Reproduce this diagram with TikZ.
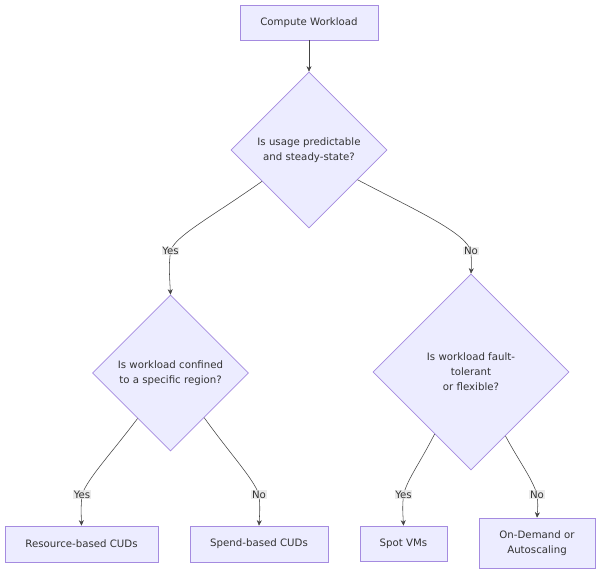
\documentclass[tikz,border=0pt]{standalone}
\usepackage{fontspec}
\setmainfont{DejaVu Sans}
\usetikzlibrary{shapes.geometric,arrows.meta,calc}
\definecolor{nodefill}{HTML}{ECECFF}
\definecolor{nodeline}{HTML}{A58BE0}
\definecolor{txt}{HTML}{333333}
\definecolor{edgecol}{HTML}{444444}
\definecolor{lblbg}{HTML}{E8E8E8}
\begin{document}
\begin{tikzpicture}[x=1pt,y=-1pt,
  every node/.style={font=\fontsize{10.2}{15}\selectfont, text=txt},
  box/.style={draw=nodeline, fill=nodefill, line width=0.7pt, inner sep=0pt, align=center},
  dia/.style={diamond, draw=nodeline, fill=nodefill, line width=0.7pt, inner sep=0pt, aspect=1},
  lbl/.style={fill=lblbg, fill opacity=0.85, text opacity=1, inner sep=0.6pt},
  conn/.style={draw=edgecol, line width=0.55pt, -{Stealth[length=5.5pt,width=5pt]}}]
\useasboundingbox[fill=white] (0,0) rectangle (600,576);

% nodes
\node[box, minimum width=138pt, minimum height=35pt] (cw) at (309,22.5) {Compute Workload};
\node[dia, minimum width=156pt, minimum height=156pt] (d1) at (309,150) {};
\node[align=center] (d1t) at (d1.center) {Is usage predictable\\and steady-state?};
\node[dia, minimum width=156pt, minimum height=156pt] (d2) at (170.5,373) {};
\node[align=center] (d2t) at (d2.center) {Is workload confined\\to a specific region?};
\node[dia, minimum width=196pt, minimum height=196pt] (d3) at (471,372) {};
\node[align=center] (d3t) at (d3.center) {Is workload fault-\\tolerant\\or flexible?};
\node[box, minimum width=153pt, minimum height=36pt] (res) at (81.5,544) {Resource-based CUDs};
\node[box, minimum width=138pt, minimum height=36pt] (spend) at (259,544) {Spend-based CUDs};
\node[box, minimum width=87pt, minimum height=35pt] (spot) at (403.5,543.5) {Spot VMs};
\node[box, minimum width=116pt, minimum height=50pt] (od) at (537,543) {On-Demand or\\Autoscaling};

% label positions
\coordinate (l1) at (170.5,251);
\coordinate (l2) at (471,251);
\coordinate (l3) at (82,494.5);
\coordinate (l4) at (259,494.5);
\coordinate (l5) at (403.5,494.5);
\coordinate (l6) at (537,494.5);

% connectors
\draw[conn] (cw.south) -- (d1.north);
\draw[conn] ($(d1.west)!0.4!(d1.south)$) .. controls (210,218) and (175,236) .. (l1) .. controls (169,266) .. (d2.north);
\draw[conn] ($(d1.east)!0.38!(d1.south)$) .. controls (415,210) and (465,232) .. (l2) .. controls (471.5,264) .. (d3.north);
\draw[conn] ($(d2.west)!0.58!(d2.south)$) .. controls (110,455) and (88,478) .. (l3) .. controls (81,507) .. (res.north);
\draw[conn] ($(d2.east)!0.57!(d2.south)$) .. controls (231,455) and (253,478) .. (l4) .. controls (260,507) .. (spend.north);
\draw[conn] ($(d3.west)!0.63!(d3.south)$) .. controls (420,463) and (408,478) .. (l5) .. controls (402.5,507) .. (spot.north);
\draw[conn] ($(d3.east)!0.65!(d3.south)$) .. controls (520,463) and (532,478) .. (l6) .. controls (538,505) .. (od.north);

% edge labels
\node[lbl] (t1) at (l1) {Yes};
\node[lbl] (t2) at (l2) {No};
\node[lbl] (t3) at (l3) {Yes};
\node[lbl] (t4) at (l4) {No};
\node[lbl] (t5) at (l5) {Yes};
\node[lbl] (t6) at (l6) {No};
\end{tikzpicture}
\end{document}
